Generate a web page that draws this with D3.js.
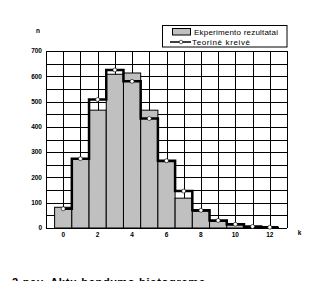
<!DOCTYPE html>
<html><head><meta charset="utf-8">
<script src="https://cdn.jsdelivr.net/npm/d3@7"></script>
<style>body{margin:0;background:#fff}svg{display:block}</style>
</head><body>
<svg id="c" width="332" height="281"></svg>
<script>
const categories = [0,1,2,3,4,5,6,7,8,9,10,11,12];
const experimental = [82, 272, 466, 608, 613, 466, 262, 118, 66, 26, 12, 4, 2];
const theoretical = [76, 274, 508, 625, 580, 433, 266, 146, 70, 30, 15, 6, 3];
const xTicks = [0,2,4,6,8,10,12];
const yTicks = [0,100,200,300,400,500,600,700];
const legendLabels = ["Ekperimento rezultatai", "Teorinė kreivė"];
const caption = "2 pav. Aktų bendymo histograma";

const svg = d3.select("#c");
const x = d3.scaleLinear().domain([-1, 13]).range([46, 287]);
const y = d3.scaleLinear().domain([0, 700]).range([228, 51]);
const font = "Arial, 'Liberation Sans', sans-serif";

// grid
const g = svg.append("g").attr("stroke", "#000").attr("stroke-width", 1).attr("shape-rendering", "crispEdges");
g.selectAll(".v").data(d3.range(-1, 14)).join("line")
  .attr("x1", d => Math.round(x(d)) + 0.5).attr("x2", d => Math.round(x(d)) + 0.5)
  .attr("y1", y(700)).attr("y2", y(0));
g.selectAll(".h").data(d3.range(0, 701, 50)).join("line")
  .attr("y1", d => Math.round(y(d)) + 0.5).attr("y2", d => Math.round(y(d)) + 0.5)
  .attr("x1", x(-1)).attr("x2", x(13));

// bars
svg.append("g").selectAll("rect").data(categories).join("rect")
  .attr("x", d => x(d - 0.5)).attr("width", x(0.5) - x(-0.5))
  .attr("y", (d, i) => y(experimental[i])).attr("height", (d, i) => y(0) - y(experimental[i]))
  .attr("fill", "#c0c0c0").attr("stroke", "#000").attr("stroke-width", 1);

// theory step line
const pts = categories.map((k, i) => [k, theoretical[i]]);
pts.push([categories[categories.length - 1] + 0.5, theoretical[theoretical.length - 1]]);
svg.append("path").datum(pts)
  .attr("d", d3.line().x(d => x(d[0])).y(d => y(d[1])).curve(d3.curveStep))
  .attr("fill", "none").attr("stroke", "#000").attr("stroke-width", 2.5);
svg.append("g").selectAll("circle").data(categories).join("circle")
  .attr("cx", d => x(d)).attr("cy", (d, i) => y(theoretical[i])).attr("r", 2)
  .attr("fill", "#fff").attr("stroke", "#000").attr("stroke-width", 0.6);

// axes labels
svg.append("g").selectAll("text").data(yTicks).join("text")
  .attr("x", 42).attr("y", d => y(d) + 2.3).attr("text-anchor", "end")
  .attr("font-family", font).attr("font-size", 6.5).attr("font-weight", "bold").text(d => d);
svg.append("g").selectAll("text").data(xTicks).join("text")
  .attr("x", d => x(d)).attr("y", 237).attr("text-anchor", "middle")
  .attr("font-family", font).attr("font-size", 6.5).attr("font-weight", "bold").text(d => d);
svg.append("text").attr("x", 38).attr("y", 33).attr("text-anchor", "middle")
  .attr("font-family", font).attr("font-size", 6.5).attr("font-weight", "bold").text("n");
svg.append("text").attr("x", 299.5).attr("y", 234.5).attr("text-anchor", "middle")
  .attr("font-family", font).attr("font-size", 6.5).attr("font-weight", "bold").text("k");

// legend
const lg = svg.append("g");
lg.append("rect").attr("x", 162.5).attr("y", 25.5).attr("width", 124.5).attr("height", 21.5)
  .attr("fill", "#fff").attr("stroke", "#000").attr("stroke-width", 1);
lg.append("rect").attr("x", 172.5).attr("y", 28.5).attr("width", 18).attr("height", 6.5)
  .attr("fill", "#c0c0c0").attr("stroke", "#000").attr("stroke-width", 1);
lg.append("line").attr("x1", 170).attr("x2", 191).attr("y1", 42).attr("y2", 42)
  .attr("stroke", "#000").attr("stroke-width", 1.5);
lg.append("circle").attr("cx", 181).attr("cy", 42).attr("r", 1.8)
  .attr("fill", "#fff").attr("stroke", "#000").attr("stroke-width", 0.6);
lg.append("text").attr("x", 194).attr("y", 34.5).attr("font-family", font).attr("font-size", 8)
  .attr("textLength", 84).attr("lengthAdjust", "spacing").text(legendLabels[0]);
lg.append("text").attr("x", 192).attr("y", 44.5).attr("font-family", font).attr("font-size", 8)
  .attr("textLength", 58).attr("lengthAdjust", "spacing").text(legendLabels[1]);

// caption
svg.append("text").attr("x", 12).attr("y", 285.5).attr("font-family", font).attr("font-size", 11)
  .attr("font-weight", "bold").attr("textLength", 193).attr("lengthAdjust", "spacing").text(caption);
</script>
</body></html>
